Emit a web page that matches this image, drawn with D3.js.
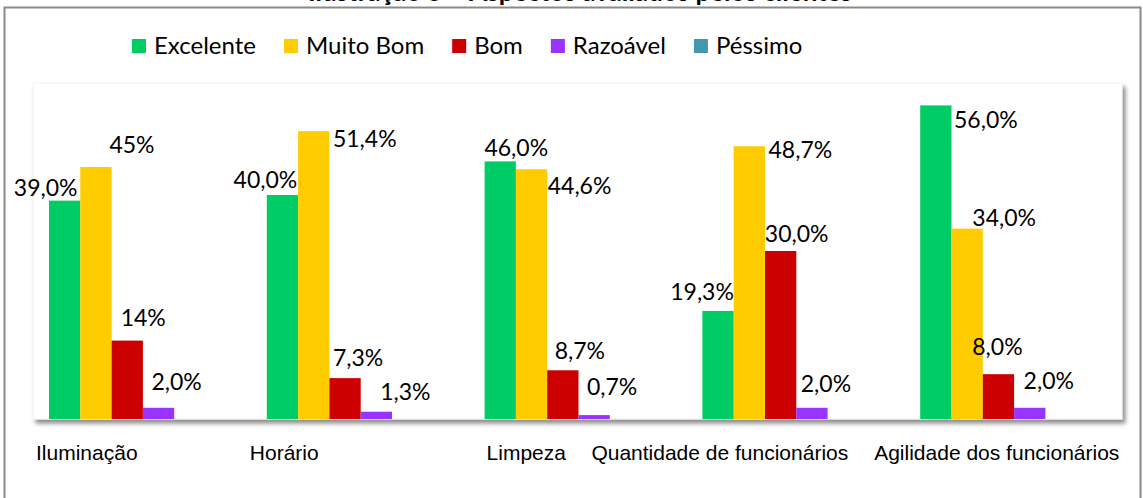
<!DOCTYPE html>
<html>
<head>
<meta charset="utf-8">
<script src="https://cdn.jsdelivr.net/npm/d3@7"></script>
<style>
  body { margin: 0; background: #fff; }
  svg { display: block; }
</style>
</head>
<body>
<div id="chart"></div>
<script>
// Chart data
var categories = ["Iluminação", "Horário", "Limpeza", "Quantidade de funcionários", "Agilidade dos funcionários"];
var series = ["Excelente", "Muito Bom", "Bom", "Razoável", "Péssimo"];
var colors = ["#00CC66", "#FFCC00", "#CC0000", "#9933FF", "#4198AF"];

// values per series (percent), one entry per category
var excelente = [39.0, 40.0, 46.0, 19.3, 56.0];
var muitoBom = [45, 51.4, 44.6, 48.7, 34.0];
var bom = [14, 7.3, 8.7, 30.0, 8.0];
var razoavel = [2.0, 1.3, 0.7, 2.0, 2.0];
var pessimo = [0, 0, 0, 0, 0];

// data label texts as printed on the chart (Péssimo has none)
var labelsExcelente = ["39,0%", "40,0%", "46,0%", "19,3%", "56,0%"];
var labelsMuitoBom = ["45%", "51,4%", "44,6%", "48,7%", "34,0%"];
var labelsBom = ["14%", "7,3%", "8,7%", "30,0%", "8,0%"];
var labelsRazoavel = ["2,0%", "1,3%", "0,7%", "2,0%", "2,0%"];

var values = [excelente, muitoBom, bom, razoavel, pessimo];
var labels = [labelsExcelente, labelsMuitoBom, labelsBom, labelsRazoavel, null];

// Layout: label offsets from bar top-center (dx, dy), as placed in the original
var labelOffsets = [
    [[-19, -5], [-17, -7], [16, -5], [-16, -11], [50, 23]],
    [[36, -14], [51, 16], [48, 25], [51, 12], [37, -3]],
    [[16, -15], [13, -12], [17, -11], [16, -9], [-1, -19]],
    [[18, -18], [29, -12], [18, -20], [14, -16], [19, -19]]
];
// category label left offsets from each band start
var catLabelOffset = [3, -1, 18, -95, -30];

const width = 1143, height = 498;
const plot = { left: 33, right: 1122, top: 83, bottom: 419 };

const svg = d3.select("#chart").append("svg")
    .attr("width", width)
    .attr("height", height);

// drop shadow for plot area
var defs = svg.append("defs");
var filter = defs.append("filter").attr("id", "shadow")
    .attr("x", "-5%").attr("y", "-5%").attr("width", "110%").attr("height", "115%");
filter.append("feDropShadow")
    .attr("dx", 3).attr("dy", 4).attr("stdDeviation", 2)
    .attr("flood-color", "#000").attr("flood-opacity", 0.45);

// Title (cut off at the top in the original)
svg.append("text")
    .attr("x", 580)
    .attr("y", 1)
    .attr("text-anchor", "middle")
    .style("font-family", "Lato, 'Open Sans', sans-serif")
    .style("font-weight", "bold")
    .style("font-size", "26px")
    .text("Ilustração 5 – Aspectos avaliados pelos clientes");

// Outer frame
svg.append("path")
    .attr("d", "M4.5," + (height + 5) + " V7.5 H1140.5 V" + (height + 5))
    .attr("fill", "none")
    .attr("stroke", "#8a8a8a")
    .attr("stroke-width", 2);

// Plot area
svg.append("rect")
    .attr("x", plot.left)
    .attr("y", plot.top)
    .attr("width", plot.right - plot.left)
    .attr("height", plot.bottom - plot.top)
    .attr("fill", "#fff")
    .attr("stroke", "#f2f2f2")
    .attr("stroke-width", 1)
    .attr("filter", "url(#shadow)");

// Scales
const x0 = d3.scaleBand()
    .domain(categories)
    .range([plot.left, plot.right])
    .padding(0);

const x1 = d3.scaleBand()
    .domain(series)
    .range([16, 16 + 5 * 31.3]);

const y = d3.scaleLinear()
    .domain([0, 60])
    .range([plot.bottom, plot.top]);

// build flat list of bars
var bars = [];
series.forEach(function (s, si) {
    categories.forEach(function (c, ci) {
        bars.push({ series: s, si: si, cat: c, ci: ci, value: values[si][ci] });
    });
});

svg.append("g")
    .selectAll("rect")
    .data(bars.filter(function (d) { return d.value > 0; }))
    .join("rect")
    .attr("x", function (d) { return x0(d.cat) + x1(d.series); })
    .attr("y", function (d) { return y(d.value); })
    .attr("width", x1.bandwidth())
    .attr("height", function (d) { return y(0) - y(d.value); })
    .attr("fill", function (d) { return colors[d.si]; });

// Data labels
svg.append("g")
    .selectAll("text")
    .data(bars.filter(function (d) { return labels[d.si]; }))
    .join("text")
    .attr("x", function (d) { return x0(d.cat) + x1(d.series) + x1.bandwidth() / 2 + labelOffsets[d.si][d.ci][0]; })
    .attr("y", function (d) { return y(d.value) + labelOffsets[d.si][d.ci][1]; })
    .attr("text-anchor", "middle")
    .style("font-family", "Lato, 'Open Sans', sans-serif")
    .style("font-size", "23px")
    .style("fill", "#000")
    .text(function (d) { return labels[d.si][d.ci]; });

// Category labels
svg.append("g")
    .selectAll("text")
    .data(categories)
    .join("text")
    .attr("x", function (d, i) { return x0(d) + catLabelOffset[i]; })
    .attr("y", 460)
    .style("font-family", "'Liberation Sans', Arial, sans-serif")
    .style("font-size", "21px")
    .style("fill", "#000")
    .text(function (d) { return d; });

// Legend
var legend = svg.append("g").attr("transform", "translate(132, 39)");
var lx = 0;
series.forEach(function (s, i) {
    var g = legend.append("g").attr("transform", "translate(" + lx + ",0)");
    g.append("rect")
        .attr("width", 14)
        .attr("height", 14)
        .attr("fill", colors[i]);
    var t = g.append("text")
        .attr("x", 22)
        .attr("y", 15)
        .style("font-family", "Lato, 'Open Sans', sans-serif")
        .style("font-size", "24px")
        .style("fill", "#000")
        .text(s);
    lx += 22 + t.node().getComputedTextLength() + 28;
});
</script>
</body>
</html>
